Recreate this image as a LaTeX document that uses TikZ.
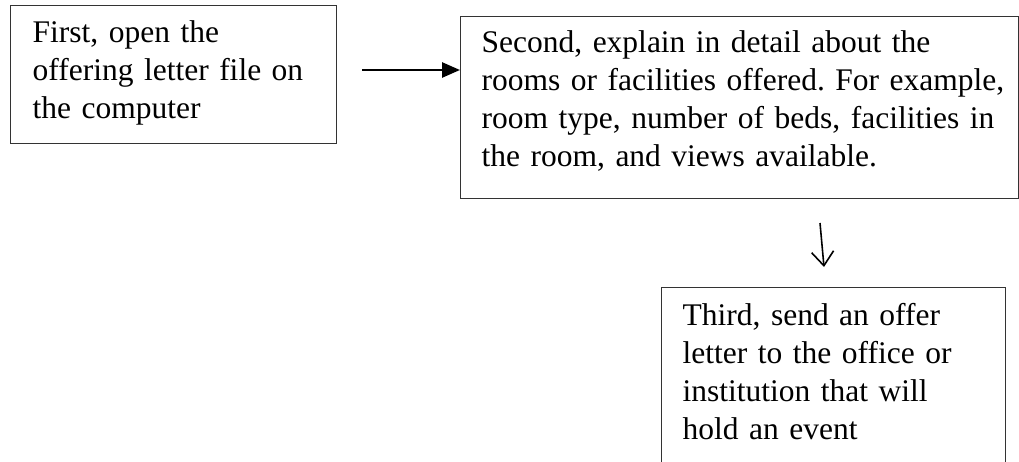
\documentclass[tikz,border=0pt]{standalone}
\usepackage{fontspec}
\setmainfont{Liberation Serif}
\usetikzlibrary{arrows.meta}
\hyphenpenalty=10000
\begin{document}
\begin{tikzpicture}[x=1pt,y=-1pt,
  stepbox/.style={draw=black!80,line width=1.3pt,anchor=north west,align=left,
    inner ysep=0pt,font=\fontsize{31.5}{38}\selectfont\frenchspacing},
  flow/.style={line width=2.6pt,-{Triangle[length=18pt,width=15pt]}},
  thinflow/.style={line width=1.6pt,-{Straight Barb[length=14pt,width=22pt,line width=1.6pt]}}]
\clip (0,0) rectangle (1019,462);
\node[stepbox,inner xsep=22pt,text width=282pt,text height=37pt,text depth=101pt] (s1) at (10,5)
  {First, open the\\offering letter file on\\the computer};
\node[stepbox,inner xsep=21pt,text width=516pt,text height=36pt,text depth=146pt] (s2) at (460,16)
  {\mbox{Second, explain in detail about the}\\\mbox{rooms or facilities offered. For example,}\\\mbox{room type, number of beds, facilities in}\\\mbox{the room, and views available.}};
\node[stepbox,inner xsep=21pt,text width=302pt,text height=38pt,text depth=200pt] (s3) at (661,287)
  {Third, send an offer\\letter to the office or\\institution that will\\hold an event};
\coordinate (a1) at (362,70);
\draw[flow] (a1) -- (a1 -| s2.west);
\coordinate (d1) at (820,223);
\coordinate (d2) at (824,267);
\draw[thinflow] (d1) -- (d2);
\end{tikzpicture}
\end{document}
